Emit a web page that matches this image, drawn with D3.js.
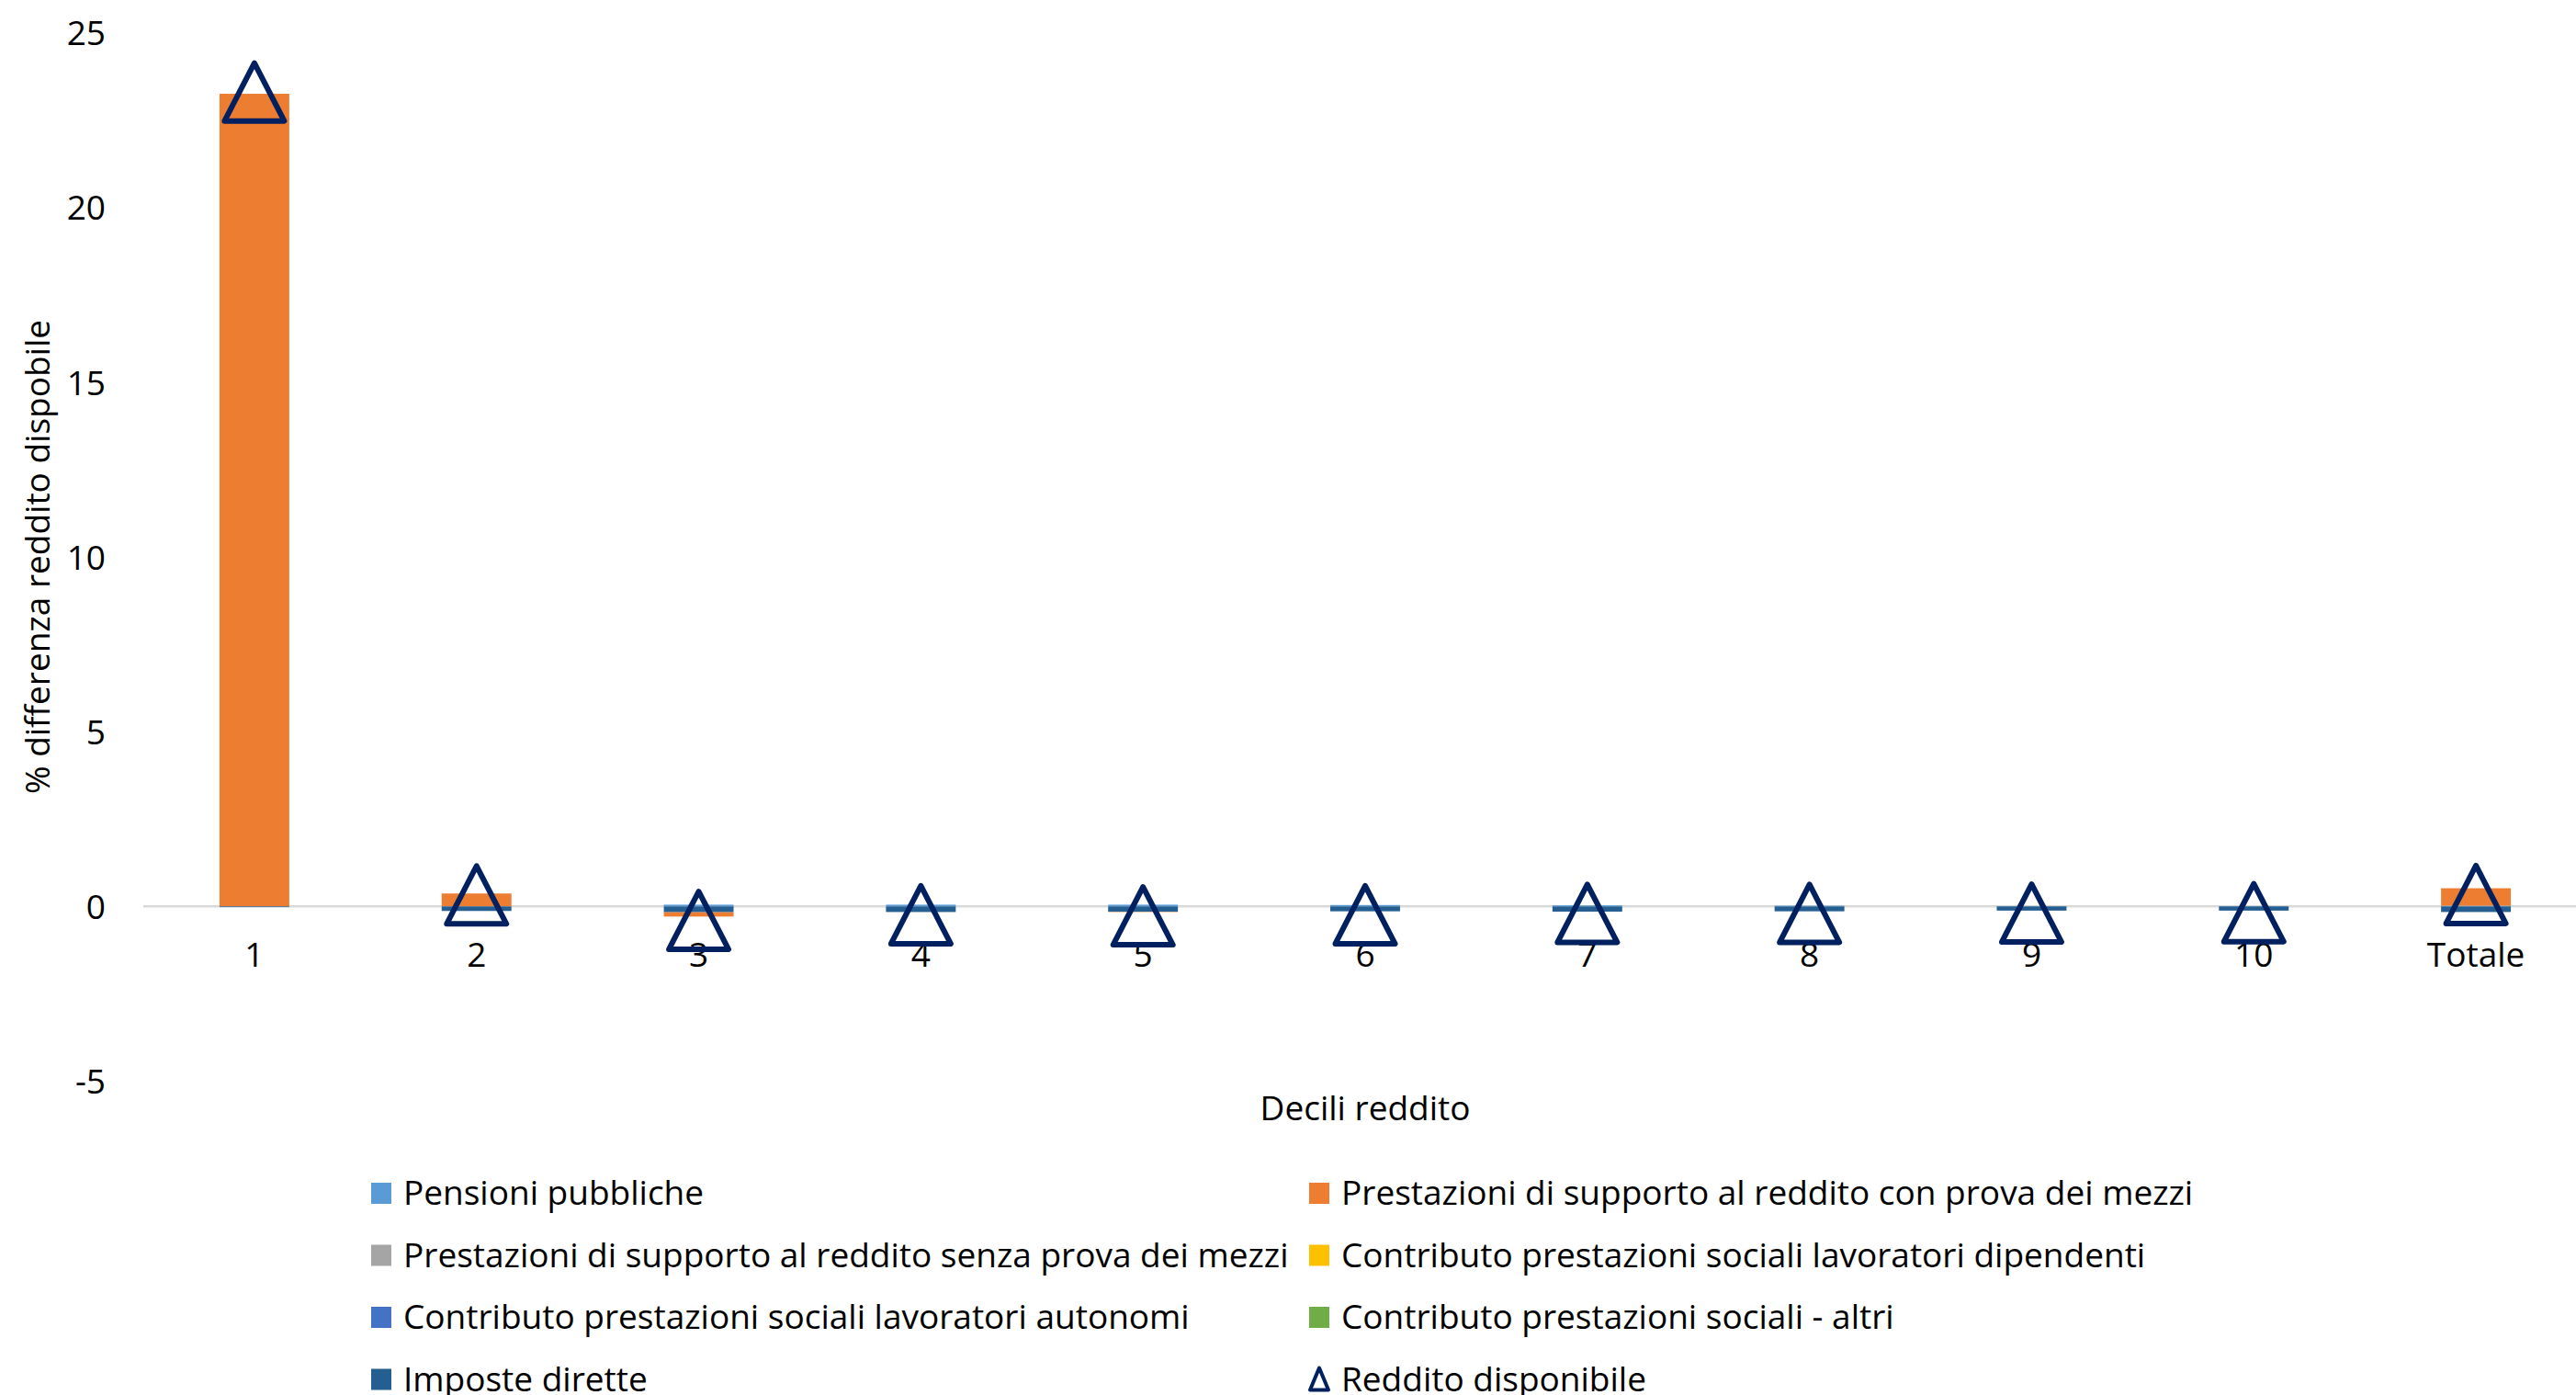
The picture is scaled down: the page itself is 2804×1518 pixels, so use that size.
<!DOCTYPE html>
<html>
<head>
<meta charset="utf-8">
<script src="https://cdn.jsdelivr.net/npm/d3@7"></script>
<style>
  html, body { margin: 0; padding: 0; background: #fff; }
  svg { display: block; }
  text { font-family: "Open Sans", Lato, sans-serif; fill: #000; }
</style>
</head>
<body>
<svg id="chart" width="2804" height="1518"></svg>
<script>
// ---- data ----
const categories = ["1", "2", "3", "4", "5", "6", "7", "8", "9", "10", "Totale"];
const pensioniPubbliche      = [0.00, 0.00, 0.05, 0.05, 0.05, 0.04, 0.03, 0.02, 0.01, 0.01, 0.02];
const prestazioniConProva    = [23.25, 0.37, -0.13, 0.00, -0.01, 0.00, 0.00, 0.00, 0.00, 0.00, 0.50];
const prestazioniSenzaProva  = [0, 0, 0, 0, 0, 0, 0, 0, 0, 0, 0];
const contribDipendenti      = [0, 0, 0, 0, 0, 0, 0, 0, 0, 0, 0];
const contribAutonomi        = [0, 0, 0, 0, 0, 0, 0, 0, 0, 0, 0];
const contribAltri           = [0, 0, 0, 0, 0, 0, 0, 0, 0, 0, 0];
const imposteDirette         = [-0.02, -0.13, -0.16, -0.16, -0.15, -0.14, -0.15, -0.14, -0.12, -0.12, -0.16];
const redditoDisponibile     = [23.30, 0.33, -0.40, -0.24, -0.27, -0.24, -0.20, -0.20, -0.19, -0.18, 0.34];
const yTicks = [-5, 0, 5, 10, 15, 20, 25];

const seriesNames = [
  "Pensioni pubbliche",
  "Prestazioni di supporto al reddito con prova dei mezzi",
  "Prestazioni di supporto al reddito senza prova dei mezzi",
  "Contributo prestazioni sociali lavoratori dipendenti",
  "Contributo prestazioni sociali lavoratori autonomi",
  "Contributo prestazioni sociali - altri",
  "Imposte dirette"
];
const seriesValues = [pensioniPubbliche, prestazioniConProva, prestazioniSenzaProva,
  contribDipendenti, contribAutonomi, contribAltri, imposteDirette];
const seriesColors = ["#5B9BD5", "#ED7D31", "#A5A5A5", "#FFC000", "#4472C4", "#70AD47", "#255E91"];
const lineName = "Reddito disponibile";
const lineColor = "#002060";

// ---- build table ----
const table = categories.map((c, i) => {
  const row = { cat: c };
  seriesNames.forEach((s, j) => row[s] = seriesValues[j][i]);
  return row;
});

const FONT = "'Open Sans', Lato, sans-serif";
const FS = 37;
const svg = d3.select("#chart");

const x = d3.scaleBand().domain(categories).range([156, 2816]).paddingInner(0.686).paddingOuter(0.343);
const y = d3.scaleLinear().domain([-5, 25]).range([1176.5, 35.5]);

// stacking: imposte nearest to zero on the negative side
const stack = d3.stack().keys(seriesNames)
  .order(() => [0, 6, 1, 2, 3, 4, 5])
  .offset(d3.stackOffsetDiverging);
const stacked = stack(table);

// zero line
svg.append("line")
  .attr("x1", x.range()[0]).attr("x2", x.range()[1])
  .attr("y1", y(0)).attr("y2", y(0))
  .attr("stroke", "#D9D9D9").attr("stroke-width", 2.5);

// bars
svg.append("g").selectAll("g").data(stacked).join("g")
  .attr("fill", (d) => seriesColors[seriesNames.indexOf(d.key)])
  .selectAll("rect").data(d => d).join("rect")
  .attr("x", d => x(d.data.cat))
  .attr("width", x.bandwidth())
  .attr("y", d => y(Math.max(d[0], d[1])))
  .attr("height", d => Math.abs(y(d[0]) - y(d[1])));

// y axis
const yAxis = svg.append("g").attr("transform", `translate(${x.range()[0]},0)`)
  .call(d3.axisLeft(y).tickValues(yTicks).tickSize(0).tickPadding(41).tickFormat(d => String(d)));
yAxis.select(".domain").remove();
yAxis.selectAll("text").attr("font-family", FONT).attr("font-size", FS).attr("fill", "#000").attr("dy", "0.36em");

// x axis (labels only)
const xAxis = svg.append("g").attr("transform", `translate(0,${y(0)})`)
  .call(d3.axisBottom(x).tickSize(0).tickPadding(0));
xAxis.select(".domain").remove();
xAxis.selectAll("text").attr("font-family", FONT).attr("font-size", FS).attr("fill", "#000")
  .attr("y", 1052 - y(0)).attr("dy", 0);

// triangle markers
function triPath(w, h) {
  return `M0,${-h/2}L${w/2},${h/2}L${-w/2},${h/2}Z`;
}
svg.append("g").selectAll("path").data(categories.map((c, i) => ({ cat: c, v: redditoDisponibile[i] })))
  .join("path")
  .attr("transform", d => `translate(${x(d.cat) + x.bandwidth() / 2},${y(d.v)})`)
  .attr("d", triPath(65, 63))
  .attr("fill", "none")
  .attr("stroke", lineColor)
  .attr("stroke-width", 6)
  .attr("stroke-linejoin", "round");

// axis titles
svg.append("text")
  .attr("x", (x.range()[0] + x.range()[1]) / 2).attr("y", 1219)
  .attr("text-anchor", "middle").attr("font-size", FS)
  .text("Decili reddito");
svg.append("text")
  .attr("transform", `translate(54,${(y(-5) + y(25)) / 2}) rotate(-90)`)
  .attr("text-anchor", "middle").attr("font-size", FS)
  .text("% differenza reddito dispobile");

// legend
const legendItems = seriesNames.map((s, i) => ({ name: s, color: seriesColors[i], type: "rect" }))
  .concat([{ name: lineName, color: lineColor, type: "tri" }]);
const colX = [404, 1425];
const rowY = [1311, 1378.5, 1446, 1513.5];
const lg = svg.append("g").selectAll("g").data(legendItems).join("g")
  .attr("transform", (d, i) => `translate(${colX[i % 2]},${rowY[Math.floor(i / 2)]})`);
lg.filter(d => d.type === "rect").append("rect")
  .attr("x", 0).attr("y", -24).attr("width", 22).attr("height", 23)
  .attr("fill", d => d.color);
lg.filter(d => d.type === "tri").append("path")
  .attr("transform", "translate(11,-13)")
  .attr("d", triPath(20, 24))
  .attr("fill", "none").attr("stroke", d => d.color).attr("stroke-width", 4).attr("stroke-linejoin", "round");
lg.append("text").attr("x", 35).attr("y", 0).attr("font-size", FS).text(d => d.name);
</script>
</body>
</html>
